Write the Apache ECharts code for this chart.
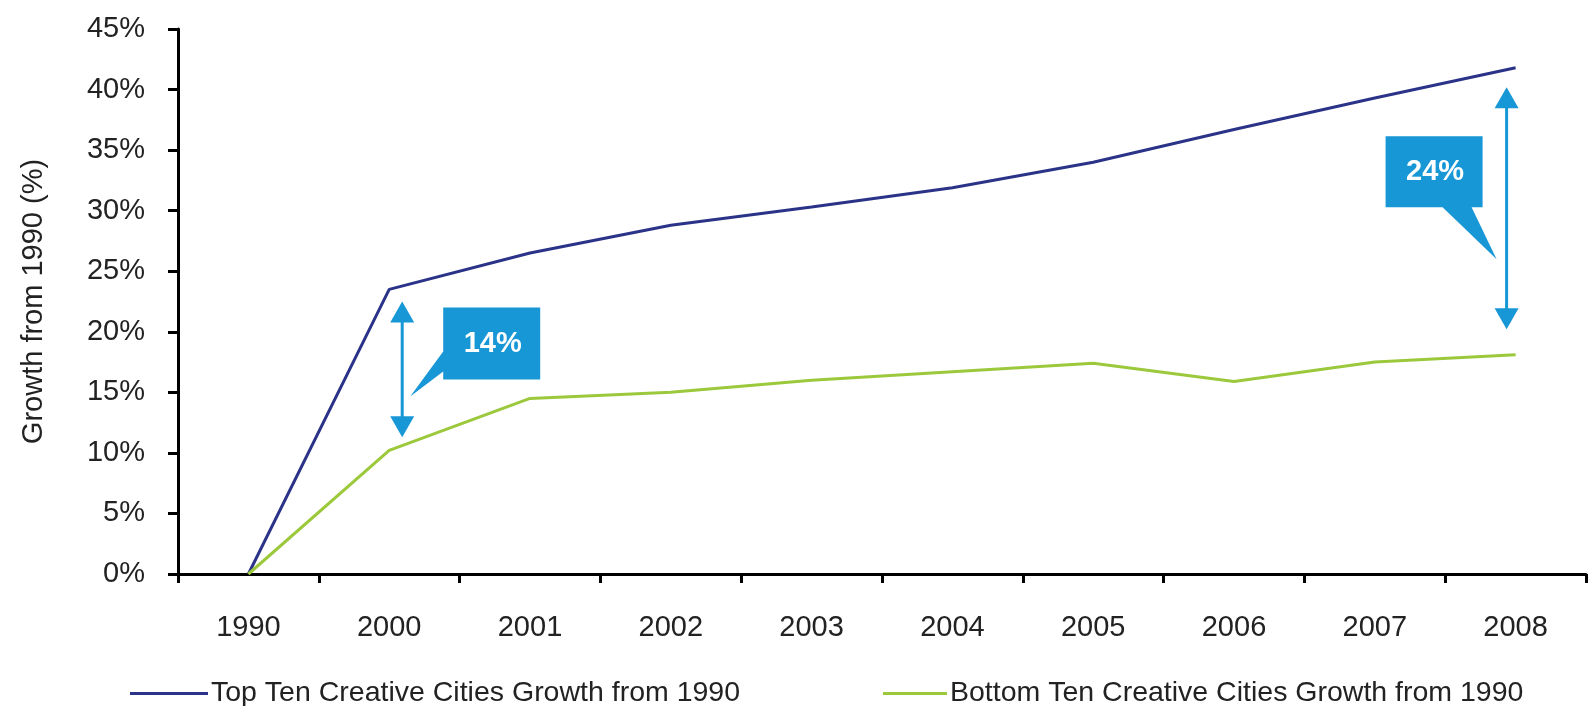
<!DOCTYPE html>
<html>
<head>
<meta charset="utf-8">
<script src="https://cdn.jsdelivr.net/npm/echarts@6/dist/echarts.min.js"></script>
<style>
  html, body { margin: 0; padding: 0; background: #ffffff; }
  #chart { width: 1588px; height: 706px; }
</style>
</head>
<body>
<div id="chart"></div>
<script>
// Categories (years) on the x axis
const years = ['1990', '2000', '2001', '2002', '2003', '2004', '2005', '2006', '2007', '2008'];

// Cumulative growth since 1990, in percent
const topTenGrowth    = [0, 23.5, 26.5, 28.8, 30.3, 31.9, 34.0, 36.7, 39.3, 41.8];
const bottomTenGrowth = [0, 10.2, 14.5, 15.0, 16.0, 16.7, 17.4, 15.9, 17.5, 18.1];

const seriesNames = [
  'Top Ten Creative Cities Growth from 1990',
  'Bottom Ten Creative Cities Growth from 1990'
];

// Gap call-outs: year, arrow extent (percent) and stated gap
const gapYears  = ['2000', '2008'];
const gapTop    = [22.5, 40.2];
const gapBottom = [11.3, 20.2];
const gapLabels = ['14%', '24%'];

const FONT = '"Liberation Sans", Arial, sans-serif';
const FS = 29;
const LEGEND_FS = 28.5;
const TEXT = '#222222';
const NAVY = '#2b3388';
const LIME = '#9cc83c';
const CALLOUT = '#1897d6';

const chart = echarts.init(document.getElementById('chart'), null, { renderer: 'canvas' });

chart.setOption({
  animation: false,
  backgroundColor: '#ffffff',
  grid: { left: 178, right: 2, top: 29, bottom: 132, containLabel: false },
  legend: [
    {
      data: [seriesNames[0]],
      left: 130, top: 679, padding: 0,
      icon: 'rect', itemWidth: 78, itemHeight: 3, itemGap: 0,
      textStyle: { fontFamily: FONT, fontSize: LEGEND_FS, color: TEXT, padding: [0, 0, 0, -2] }
    },
    {
      data: [seriesNames[1]],
      left: 883, top: 679, padding: 0,
      icon: 'rect', itemWidth: 64, itemHeight: 3, itemGap: 0,
      textStyle: { fontFamily: FONT, fontSize: LEGEND_FS, color: TEXT, padding: [0, 0, 0, -2] }
    }
  ],
  xAxis: {
    type: 'category',
    data: years,
    boundaryGap: true,
    axisLine: { show: true, lineStyle: { color: '#000000', width: 3 } },
    axisTick: { show: true, alignWithLabel: false, interval: 0, inside: false, length: 9, lineStyle: { color: '#000000', width: 3 } },
    axisLabel: { fontFamily: FONT, fontSize: FS, color: TEXT, margin: 39, interval: 0 },
    splitLine: { show: false }
  },
  yAxis: {
    type: 'value',
    min: 0, max: 45, interval: 5,
    name: 'Growth from 1990 (%)',
    nameLocation: 'middle',
    nameRotate: 90,
    nameGap: 130,
    nameTextStyle: { fontFamily: FONT, fontSize: FS, color: TEXT },
    axisLine: { show: true, lineStyle: { color: '#000000', width: 3 } },
    axisTick: { show: true, inside: false, length: 10, lineStyle: { color: '#000000', width: 3 } },
    axisLabel: { fontFamily: FONT, fontSize: FS, color: TEXT, margin: 33, formatter: '{value}%' },
    splitLine: { show: false }
  },
  series: [
    {
      name: seriesNames[0], type: 'line', data: topTenGrowth,
      showSymbol: false, symbol: 'none',
      itemStyle: { color: NAVY },
      lineStyle: { color: NAVY, width: 3 }
    },
    {
      name: seriesNames[1], type: 'line', data: bottomTenGrowth,
      showSymbol: false, symbol: 'none',
      itemStyle: { color: LIME },
      lineStyle: { color: LIME, width: 3 }
    }
  ]
});

// Double-headed arrows and speech-bubble labels marking the gap between the series.
// Layout per call-out: arrow offset from the category centre, bubble box and pointer geometry.
const calloutLayout = [
  { dx: 13, box: { dx: 41, dy: 6, w: 97, h: 72 }, pointer: 'left',   base: [44, 64], tip: { dx: 8,   dy: 95 } },
  { dx: -9, box: { dx: -121, dy: 49, w: 97, h: 71 }, pointer: 'bottom', base: [57, 86], tip: { dx: -10, dy: 172 } }
];

const graphics = [];
gapYears.forEach(function (yr, i) {
  const lay = calloutLayout[i];
  const pTop = chart.convertToPixel({ gridIndex: 0 }, [yr, gapTop[i]]);
  const pBot = chart.convertToPixel({ gridIndex: 0 }, [yr, gapBottom[i]]);
  const ax = pTop[0] + lay.dx;
  const yT = pTop[1];
  const yB = pBot[1];
  const headW = 12, headH = 21;

  graphics.push({
    type: 'line',
    shape: { x1: ax, y1: yT + headH - 2, x2: ax, y2: yB - headH + 2 },
    style: { stroke: CALLOUT, lineWidth: 3 }
  });
  graphics.push({
    type: 'polygon',
    shape: { points: [[ax, yT], [ax + headW, yT + headH], [ax - headW, yT + headH]] },
    style: { fill: CALLOUT }
  });
  graphics.push({
    type: 'polygon',
    shape: { points: [[ax, yB], [ax + headW, yB - headH], [ax - headW, yB - headH]] },
    style: { fill: CALLOUT }
  });

  const L = ax + lay.box.dx, T = yT + lay.box.dy, R = L + lay.box.w, B = T + lay.box.h;
  const tx = ax + lay.tip.dx, ty = yT + lay.tip.dy;
  let pts;
  if (lay.pointer === 'left') {
    pts = [[L, T], [R, T], [R, B], [L, B], [L, T + lay.base[1]], [tx, ty], [L, T + lay.base[0]]];
  } else {
    pts = [[L, T], [R, T], [R, B], [L + lay.base[1], B], [tx, ty], [L + lay.base[0], B], [L, B]];
  }
  graphics.push({ type: 'polygon', shape: { points: pts }, style: { fill: CALLOUT } });
  graphics.push({
    type: 'text',
    x: (L + R) / 2 + 1, y: (T + B) / 2,
    style: {
      text: gapLabels[i], fill: '#ffffff',
      font: 'bold 29px ' + FONT,
      align: 'center', verticalAlign: 'middle'
    }
  });
});

chart.setOption({ graphic: graphics });
</script>
</body>
</html>
